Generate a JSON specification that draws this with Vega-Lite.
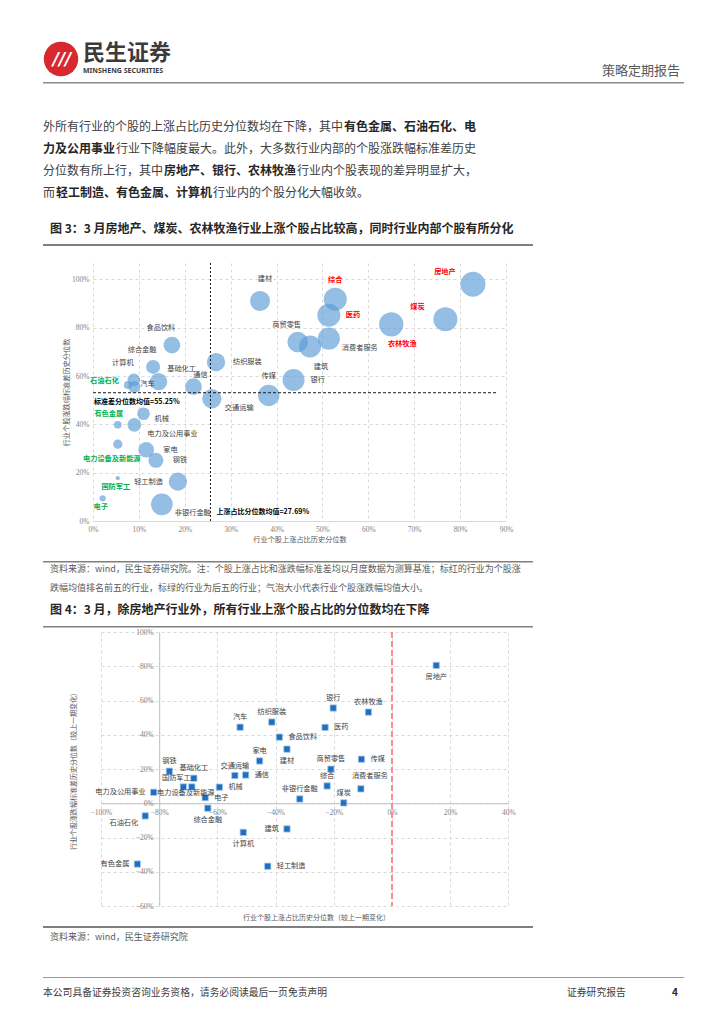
{
"$schema": "https://vega.github.io/schema/vega-lite/v6.json",
"background": "white",
"padding": {"left": 43, "top": 41, "right": 0, "bottom": 0},
"spacing": 0,
"config": {"view": {"stroke": null}, "font": "Noto Sans CJK SC", "concat": {"spacing": 0}, "text": {"fontSize": 7.2, "baseline": "middle", "font": "Noto Sans CJK SC"}, "axis": {"labelFlush": false, "labelOverlap": false},
  "title": {"anchor": "start", "frame": "group", "offset": 0}},
"datasets": {
"fig3": [
{"name":"建材","x":0.364,"y":0.911,"avgChg":4.0,"rank":"其他"},
{"name":"食品饮料","x":0.172,"y":0.728,"avgChg":2.79,"rank":"其他"},
{"name":"综合金融","x":0.131,"y":0.638,"avgChg":1.96,"rank":"其他"},
{"name":"纺织服装","x":0.268,"y":0.658,"avgChg":3.35,"rank":"其他"},
{"name":"计算机","x":0.089,"y":0.584,"avgChg":1.61,"rank":"其他"},
{"name":"汽车","x":0.090,"y":0.555,"avgChg":1.44,"rank":"其他"},
{"name":"石油石化","x":0.076,"y":0.563,"avgChg":0.64,"rank":"后五"},
{"name":"基础化工","x":0.143,"y":0.577,"avgChg":3.0,"rank":"其他"},
{"name":"通信","x":0.219,"y":0.556,"avgChg":2.79,"rank":"其他"},
{"name":"交通运输","x":0.259,"y":0.506,"avgChg":3.72,"rank":"其他"},
{"name":"传媒","x":0.383,"y":0.520,"avgChg":4.54,"rank":"其他"},
{"name":"银行","x":0.437,"y":0.584,"avgChg":4.84,"rank":"其他"},
{"name":"商贸零售","x":0.446,"y":0.741,"avgChg":4.2,"rank":"其他"},
{"name":"建筑","x":0.473,"y":0.722,"avgChg":4.84,"rank":"其他"},
{"name":"消费者服务","x":0.514,"y":0.755,"avgChg":4.84,"rank":"其他"},
{"name":"医药","x":0.514,"y":0.852,"avgChg":5.29,"rank":"前五"},
{"name":"综合","x":0.528,"y":0.918,"avgChg":5.29,"rank":"前五"},
{"name":"农林牧渔","x":0.650,"y":0.814,"avgChg":5.9,"rank":"前五"},
{"name":"煤炭","x":0.768,"y":0.835,"avgChg":5.76,"rank":"前五"},
{"name":"房地产","x":0.828,"y":0.980,"avgChg":6.25,"rank":"前五"},
{"name":"机械","x":0.110,"y":0.444,"avgChg":1.61,"rank":"其他"},
{"name":"有色金属","x":0.054,"y":0.398,"avgChg":0.59,"rank":"后五"},
{"name":"电力及公用事业","x":0.090,"y":0.398,"avgChg":1.88,"rank":"其他"},
{"name":"电力设备及新能源","x":0.054,"y":0.318,"avgChg":0.86,"rank":"后五"},
{"name":"家电","x":0.116,"y":0.295,"avgChg":2.46,"rank":"其他"},
{"name":"钢铁","x":0.137,"y":0.251,"avgChg":2.25,"rank":"其他"},
{"name":"国防军工","x":0.054,"y":0.177,"avgChg":0.18,"rank":"后五"},
{"name":"轻工制造","x":0.185,"y":0.163,"avgChg":3.35,"rank":"其他"},
{"name":"电子","x":0.021,"y":0.094,"avgChg":0.40,"rank":"后五"},
{"name":"非银行金融","x":0.150,"y":0.069,"avgChg":4.71,"rank":"其他"}
],
"fig4": [
{"name":"汽车","x":-0.522,"y":0.444},
{"name":"纺织服装","x":-0.413,"y":0.474},
{"name":"食品饮料","x":-0.387,"y":0.386},
{"name":"建材","x":-0.361,"y":0.316},
{"name":"家电","x":-0.455,"y":0.247},
{"name":"钢铁","x":-0.765,"y":0.187},
{"name":"房地产","x":0.152,"y":0.805},
{"name":"银行","x":-0.202,"y":0.556},
{"name":"农林牧渔","x":-0.081,"y":0.532},
{"name":"医药","x":-0.230,"y":0.443},
{"name":"传媒","x":-0.105,"y":0.257},
{"name":"商贸零售","x":-0.210,"y":0.199},
{"name":"基础化工","x":-0.681,"y":0.146},
{"name":"国防军工","x":-0.717,"y":0.095},
{"name":"电力设备及新能源","x":-0.688,"y":0.095},
{"name":"交通运输","x":-0.540,"y":0.162},
{"name":"通信","x":-0.503,"y":0.165},
{"name":"机械","x":-0.593,"y":0.094},
{"name":"电子","x":-0.642,"y":0.033},
{"name":"综合金融","x":-0.633,"y":-0.029},
{"name":"综合","x":-0.223,"y":0.101},
{"name":"非银行金融","x":-0.317,"y":0.025},
{"name":"煤炭","x":-0.166,"y":0.002},
{"name":"消费者服务","x":-0.107,"y":0.084},
{"name":"电力及公用事业","x":-0.819,"y":0.064},
{"name":"石油石化","x":-0.848,"y":-0.074},
{"name":"计算机","x":-0.511,"y":-0.170},
{"name":"建筑","x":-0.361,"y":-0.150},
{"name":"有色金属","x":-0.875,"y":-0.355},
{"name":"轻工制造","x":-0.427,"y":-0.368}
]
},
"vconcat": [
{"hconcat": [
  {"width": 36, "height": 36, "data": {"values": [{"logo": "民生证券"}]},
   "layer": [
    {"mark": {"type": "circle", "size": 1190, "color": "#d7282f", "opacity": 1}},
    {"mark": {"type": "text", "text": "///", "font": "DejaVu Sans", "fontSize": 17, "fontWeight": "bold", "fontStyle": "italic", "color": "#ffffff", "dx": 1, "dy": 1, "align": "center", "baseline": "middle"}}
   ]},
  {"width": 100, "height": 1, "data": {"values": []}, "mark": "point",
   "title": {"text": "民生证券", "subtitle": "MINSHENG SECURITIES", "orient": "bottom", "fontSize": 22, "fontWeight": "bold", "color": "#3b3b3b", "subtitleFontSize": 7, "subtitleFontWeight": "bold", "subtitleColor": "#3b3b3b", "subtitleFont": "Noto Sans", "subtitlePadding": 2, "offset": 1}},
  {"width": 493, "height": 23, "data": {"values": []}, "mark": "point",
   "title": {"text": "策略定期报告", "orient": "bottom", "anchor": "end", "fontSize": 13, "fontWeight": "normal", "color": "#595959", "offset": 1}}
 ], "spacing": 4},
{"width": 1, "height": 4, "data": {"values": []}, "mark": "point"},
{"width": 641, "height": 1.5, "data": {"values": []}, "mark": "point", "view": {"fill": "#8c8c8c", "stroke": null}},
{"width": 1, "height": 37, "data": {"values": []}, "mark": "point"},
{"hconcat": [
  {"width": 1, "height": 1, "data": {"values": []}, "mark": "point", "title": {"text": "外所有行业的个股的上涨占比历史分位数均在下降，其中", "fontSize": 12, "fontWeight": "normal", "color": "#404040"}},
  {"width": 1, "height": 1, "data": {"values": []}, "mark": "point", "title": {"text": "有色金属、石油石化、电", "fontSize": 12, "fontWeight": "bold", "color": "#262626"}}
 ], "spacing": 0},
{"width": 1, "height": 3.75, "data": {"values": []}, "mark": "point"},
{"hconcat": [
  {"width": 1, "height": 1, "data": {"values": []}, "mark": "point", "title": {"text": "力及公用事业", "fontSize": 12, "fontWeight": "bold", "color": "#262626"}},
  {"width": 1, "height": 1, "data": {"values": []}, "mark": "point", "title": {"text": "行业下降幅度最大。此外，大多数行业内部的个股涨跌幅标准差历史", "fontSize": 12, "fontWeight": "normal", "color": "#404040"}}
 ], "spacing": 0},
{"width": 1, "height": 3.75, "data": {"values": []}, "mark": "point"},
{"hconcat": [
  {"width": 1, "height": 1, "data": {"values": []}, "mark": "point", "title": {"text": "分位数有所上行，其中", "fontSize": 12, "fontWeight": "normal", "color": "#404040"}},
  {"width": 1, "height": 1, "data": {"values": []}, "mark": "point", "title": {"text": "房地产、银行、农林牧渔", "fontSize": 12, "fontWeight": "bold", "color": "#262626"}},
  {"width": 1, "height": 1, "data": {"values": []}, "mark": "point", "title": {"text": "行业内个股表现的差异明显扩大，", "fontSize": 12, "fontWeight": "normal", "color": "#404040"}}
 ], "spacing": 0},
{"width": 1, "height": 3.75, "data": {"values": []}, "mark": "point"},
{"hconcat": [
  {"width": 1, "height": 1, "data": {"values": []}, "mark": "point", "title": {"text": "而", "fontSize": 12, "fontWeight": "normal", "color": "#404040"}},
  {"width": 1, "height": 1, "data": {"values": []}, "mark": "point", "title": {"text": "轻工制造、有色金属、计算机", "fontSize": 12, "fontWeight": "bold", "color": "#262626"}},
  {"width": 1, "height": 1, "data": {"values": []}, "mark": "point", "title": {"text": "行业内的个股分化大幅收敛。", "fontSize": 12, "fontWeight": "normal", "color": "#404040"}}
 ], "spacing": 0},
{"width": 1, "height": 17.25, "data": {"values": []}, "mark": "point"},
{"width": 1, "height": 1, "data": {"values": []}, "mark": "point",
 "title": {"text": "图 3：3 月房地产、煤炭、农林牧渔行业上涨个股占比较高，同时行业内部个股有所分化", "dx": 7, "fontSize": 12, "fontWeight": "bold", "color": "#262626"}},
{"width": 1, "height": 3, "data": {"values": []}, "mark": "point"},
{"width": 490, "height": 2, "data": {"values": []}, "mark": "point", "view": {"fill": "#7f7f7f", "stroke": null}},
{"width": 1, "height": 15.5, "data": {"values": []}, "mark": "point"},
{"hconcat": [
  {"width": 19, "height": 1, "data": {"values": []}, "mark": "point"},
  {"width": 413, "height": 258, "data": {"name": "fig3"},
   "layer": [
    {"mark": {"type": "circle", "color": "#5b9bd5", "opacity": 0.65},
     "encoding": {
      "x": {"field": "x", "type": "quantitative", "scale": {"domain": [0, 0.9], "nice": false, "zero": false},
            "axis": {"values": [0, 0.1, 0.2, 0.3, 0.4, 0.5, 0.6, 0.7, 0.8, 0.9], "format": ".0%", "labelOverlap": false, "labelFlush": false, "grid": true, "gridDash": [3, 3], "gridColor": "#d9d9d9", "domain": true, "domainColor": "#d9d9d9", "ticks": false, "labelFont": "Liberation Serif", "labelFontSize": 7.5, "labelColor": "#7f7f7f", "labelPadding": 4, "title": "行业个股上涨占比历史分位数", "titleFontSize": 7.2, "titleFontWeight": "normal", "titleColor": "#595959", "titlePadding": 3}},
      "y": {"field": "y", "type": "quantitative", "scale": {"domain": [0, 1.068], "nice": false, "zero": false},
            "axis": {"values": [0, 0.2, 0.4, 0.6, 0.8, 1.0], "format": ".0%", "labelOverlap": false, "labelFlush": false, "grid": true, "gridDash": [3, 3], "gridColor": "#d9d9d9", "domain": false, "ticks": false, "labelFont": "Liberation Serif", "labelFontSize": 7.5, "labelColor": "#7f7f7f", "labelPadding": 4, "title": "行业个股涨跌幅标准差历史分位数", "titleFontSize": 7.2, "titleFontWeight": "normal", "titleColor": "#595959", "titleX": -23}},
      "size": {"field": "avgChg", "type": "quantitative", "scale": {"domain": [0, 6.25], "range": [0, 625]}, "legend": null}}},
    {"data": {"values": [{"x": 0.256, "label": "上涨占比分位数均值=27.69%"}]},
     "layer": [
      {"mark": {"type": "rule", "color": "#1a1a1a", "strokeDash": [2, 2], "strokeWidth": 1}, "encoding": {"x": {"field": "x", "type": "quantitative"}}},
      {"mark": {"type": "text", "align": "left", "dx": 6, "dy": -9, "fontSize": 7, "fontWeight": "bold", "color": "#000000"}, "encoding": {"x": {"field": "x", "type": "quantitative"}, "y": {"datum": 0}, "text": {"field": "label"}}}
     ]},
    {"data": {"values": [{"y": 0.531, "label": "标准差分位数均值=55.25%"}]},
     "layer": [
      {"mark": {"type": "rule", "color": "#1a1a1a", "strokeDash": [3, 2], "strokeWidth": 1}, "encoding": {"y": {"field": "y", "type": "quantitative"}, "x": {"datum": 0}, "x2": {"datum": 0.88}}},
      {"mark": {"type": "text", "align": "left", "dx": 1, "dy": 9.5, "fontSize": 7, "fontWeight": "bold", "color": "#000000"}, "encoding": {"y": {"field": "y", "type": "quantitative"}, "x": {"datum": 0}, "text": {"field": "label"}}}
     ]},
    {"encoding": {"x": {"field": "x", "type": "quantitative"}, "y": {"field": "y", "type": "quantitative"}, "text": {"field": "name"},
                  "color": {"field": "rank", "type": "nominal", "scale": {"domain": ["前五", "后五", "其他"], "range": ["#ff0000", "#00b050", "#404040"]}, "legend": null}},
     "layer": [
      {"transform": [{"filter": {"field": "name", "oneOf": ["建材"]}}], "mark": {"type": "text", "align": "center", "dx": 5, "dy": -22, "fontWeight": {"expr": "datum.rank === '其他' ? 'normal' : 'bold'"}}},
      {"transform": [{"filter": {"field": "name", "oneOf": ["综合", "传媒"]}}], "mark": {"type": "text", "align": "center", "dx": 0, "dy": -19, "fontWeight": {"expr": "datum.rank === '其他' ? 'normal' : 'bold'"}}},
      {"transform": [{"filter": {"field": "name", "oneOf": ["食品饮料", "计算机", "综合金融", "商贸零售"]}}], "mark": {"type": "text", "align": "center", "dx": -11, "dy": -17, "fontWeight": {"expr": "datum.rank === '其他' ? 'normal' : 'bold'"}}},
      {"transform": [{"filter": {"field": "name", "oneOf": ["房地产", "煤炭"]}}], "mark": {"type": "text", "align": "center", "dx": -28, "dy": -12, "fontWeight": {"expr": "datum.rank === '其他' ? 'normal' : 'bold'"}}},
      {"transform": [{"filter": {"field": "name", "oneOf": ["通信"]}}], "mark": {"type": "text", "align": "center", "dx": 7, "dy": -12, "fontWeight": {"expr": "datum.rank === '其他' ? 'normal' : 'bold'"}}},
      {"transform": [{"filter": {"field": "name", "oneOf": ["基础化工"]}}], "mark": {"type": "text", "align": "center", "dx": 23, "dy": -13, "fontWeight": {"expr": "datum.rank === '其他' ? 'normal' : 'bold'"}}},
      {"transform": [{"filter": {"field": "name", "oneOf": ["有色金属"]}}], "mark": {"type": "text", "align": "center", "dx": -9, "dy": -11, "fontWeight": {"expr": "datum.rank === '其他' ? 'normal' : 'bold'"}}},
      {"transform": [{"filter": {"field": "name", "oneOf": ["农林牧渔", "建筑"]}}], "mark": {"type": "text", "align": "center", "dx": 11, "dy": 20, "fontWeight": {"expr": "datum.rank === '其他' ? 'normal' : 'bold'"}}},
      {"transform": [{"filter": {"field": "name", "oneOf": ["国防军工", "电子"]}}], "mark": {"type": "text", "align": "center", "dx": -2, "dy": 9, "fontWeight": {"expr": "datum.rank === '其他' ? 'normal' : 'bold'"}}},
      {"transform": [{"filter": {"field": "name", "oneOf": ["电力设备及新能源"]}}], "mark": {"type": "text", "align": "center", "dx": -6, "dy": 15, "fontWeight": {"expr": "datum.rank === '其他' ? 'normal' : 'bold'"}}},
      {"transform": [{"filter": {"field": "name", "oneOf": ["医药", "银行", "纺织服装", "家电", "钢铁"]}}], "mark": {"type": "text", "align": "left", "dx": 17, "dy": 0, "fontWeight": {"expr": "datum.rank === '其他' ? 'normal' : 'bold'"}}},
      {"transform": [{"filter": {"field": "name", "oneOf": ["汽车"]}}], "mark": {"type": "text", "align": "left", "dx": 6, "dy": -3, "fontWeight": {"expr": "datum.rank === '其他' ? 'normal' : 'bold'"}}},
      {"transform": [{"filter": {"field": "name", "oneOf": ["机械"]}}], "mark": {"type": "text", "align": "left", "dx": 11, "dy": 5, "fontWeight": {"expr": "datum.rank === '其他' ? 'normal' : 'bold'"}}},
      {"transform": [{"filter": {"field": "name", "oneOf": ["电力及公用事业", "消费者服务", "交通运输", "非银行金融"]}}], "mark": {"type": "text", "align": "left", "dx": 13, "dy": 9, "fontWeight": {"expr": "datum.rank === '其他' ? 'normal' : 'bold'"}}},
      {"transform": [{"filter": {"field": "name", "oneOf": ["石油石化"]}}], "mark": {"type": "text", "align": "right", "dx": -9, "dy": -4, "fontWeight": {"expr": "datum.rank === '其他' ? 'normal' : 'bold'"}}},
      {"transform": [{"filter": {"field": "name", "oneOf": ["轻工制造"]}}], "mark": {"type": "text", "align": "right", "dx": -15, "dy": 0, "fontWeight": {"expr": "datum.rank === '其他' ? 'normal' : 'bold'"}}}
     ]}
   ]}
 ], "spacing": 0},
{"width": 1, "height": 18, "data": {"values": []}, "mark": "point"},
{"width": 490, "height": 1.5, "data": {"values": []}, "mark": "point", "view": {"fill": "#7f7f7f", "stroke": null}},
{"width": 1, "height": 2, "data": {"values": []}, "mark": "point"},
{"width": 1, "height": 1, "data": {"values": []}, "mark": "point",
 "title": {"text": ["资料来源：wind，民生证券研究院。注：个股上涨占比和涨跌幅标准差均以月度数据为测算基准；标红的行业为个股涨", "跌幅均值排名前五的行业，标绿的行业为后五的行业；气泡大小代表行业个股涨跌幅均值大小。"], "dx": 7, "fontSize": 9, "fontWeight": "normal", "color": "#595959", "lineHeight": 19}},
{"width": 1, "height": 5.5, "data": {"values": []}, "mark": "point"},
{"width": 1, "height": 1, "data": {"values": []}, "mark": "point",
 "title": {"text": "图 4：3 月，除房地产行业外，所有行业上涨个股占比的分位数均在下降", "dx": 7, "fontSize": 12, "fontWeight": "bold", "color": "#262626"}},
{"width": 1, "height": 4, "data": {"values": []}, "mark": "point"},
{"width": 490, "height": 1.5, "data": {"values": []}, "mark": "point", "view": {"fill": "#7f7f7f", "stroke": null}},
{"hconcat": [
  {"width": 25.5, "height": 1, "data": {"values": []}, "mark": "point"},
  {"width": 407.4, "height": 274, "data": {"name": "fig4"},
   "layer": [
    {"data": {"values": [{"x": 0}]}, "mark": {"type": "rule", "color": "#ff8c8c", "strokeDash": [6, 3], "strokeWidth": 2}, "encoding": {"x": {"field": "x", "type": "quantitative"}}},
    {"encoding": {
      "x": {"field": "x", "type": "quantitative", "scale": {"domain": [-1, 0.4], "nice": false, "zero": false},
            "axis": {"values": [-1, -0.8, -0.6, -0.4, -0.2, 0, 0.2, 0.4], "format": ".0%", "labelOverlap": false, "labelFlush": false, "offset": -102.75, "grid": true, "gridDash": [3, 3], "gridColor": "#d9d9d9", "domain": true, "domainColor": "#bfbfbf", "ticks": false, "labelFont": "Liberation Serif", "labelFontSize": 7.5, "labelColor": "#7f7f7f", "labelPadding": 5, "title": "行业个股上涨占比历史分位数（较上一期变化）", "titleFontSize": 7, "titleFontWeight": "normal", "titleColor": "#595959", "titleX": 215, "titleY": 114, "titleBaseline": "middle"}},
      "y": {"field": "y", "type": "quantitative", "scale": {"domain": [-0.6, 1.0], "nice": false, "zero": false},
            "axis": {"values": [-0.6, -0.4, -0.2, 0, 0.2, 0.4, 0.6, 0.8, 1.0], "format": ".0%", "labelOverlap": false, "labelSeparation": 0, "labelFlush": false, "offset": -58.2, "grid": true, "gridDash": [3, 3], "gridColor": "#d9d9d9", "domain": true, "domainColor": "#bfbfbf", "ticks": false, "labelFont": "Liberation Serif", "labelFontSize": 7.5, "labelColor": "#7f7f7f", "labelPadding": 6, "title": "行业个股涨跌幅标准差历史分位数（较上一期变化）", "titleFontSize": 7, "titleFontWeight": "normal", "titleColor": "#595959", "titleX": -83.2}},
      "text": {"field": "name"}},
     "layer": [
      {"mark": {"type": "square", "size": 40, "color": "#1f6fc0", "opacity": 1, "stroke": "#a9cbe9", "strokeWidth": 0.8}},
      {"transform": [{"filter": {"field": "name", "oneOf": ["房地产", "建材", "计算机", "综合金融"]}}], "mark": {"type": "text", "align": "center", "dx": 0, "dy": 12, "color": "#404040"}},
      {"transform": [{"filter": {"field": "name", "oneOf": ["银行", "农林牧渔", "纺织服装", "汽车", "家电", "商贸零售", "钢铁", "基础化工", "交通运输", "综合", "煤炭", "非银行金融"]}}], "mark": {"type": "text", "align": "center", "dx": 0, "dy": -10, "color": "#404040"}},
      {"transform": [{"filter": {"field": "name", "oneOf": ["国防军工"]}}], "mark": {"type": "text", "align": "center", "dx": -7, "dy": -9, "color": "#404040"}},
      {"transform": [{"filter": {"field": "name", "oneOf": ["消费者服务"]}}], "mark": {"type": "text", "align": "center", "dx": 9, "dy": -13, "color": "#404040"}},
      {"transform": [{"filter": {"field": "name", "oneOf": ["电力设备及新能源"]}}], "mark": {"type": "text", "align": "center", "dx": -6, "dy": 6, "color": "#404040"}},
      {"transform": [{"filter": {"field": "name", "oneOf": ["医药", "食品饮料", "传媒", "通信", "机械", "电子", "轻工制造"]}}], "mark": {"type": "text", "align": "left", "dx": 9, "dy": 0, "color": "#404040"}},
      {"transform": [{"filter": {"field": "name", "oneOf": ["电力及公用事业", "建筑", "有色金属"]}}], "mark": {"type": "text", "align": "right", "dx": -8, "dy": 0, "color": "#404040"}},
      {"transform": [{"filter": {"field": "name", "oneOf": ["石油石化"]}}], "mark": {"type": "text", "align": "right", "dx": -7, "dy": 7, "color": "#404040"}}
     ]}
   ]}
 ], "spacing": 0},
{"width": 1, "height": 5, "data": {"values": []}, "mark": "point"},
{"width": 490, "height": 2, "data": {"values": []}, "mark": "point", "view": {"fill": "#7f7f7f", "stroke": null}},
{"width": 1, "height": 5, "data": {"values": []}, "mark": "point"},
{"width": 1, "height": 1, "data": {"values": []}, "mark": "point",
 "title": {"text": "资料来源：wind，民生证券研究院", "dx": 7, "fontSize": 9, "fontWeight": "normal", "color": "#595959"}},
{"width": 1, "height": 29.5, "data": {"values": []}, "mark": "point"},
{"width": 641, "height": 1, "data": {"values": []}, "mark": "point", "view": {"fill": "#9a9a9a", "stroke": null}},
{"width": 1, "height": 10, "data": {"values": []}, "mark": "point"},
{"hconcat": [
  {"width": 520, "height": 1, "data": {"values": []}, "mark": "point",
   "title": {"text": "本公司具备证券投资咨询业务资格，请务必阅读最后一页免责声明", "fontSize": 9.8, "fontWeight": "normal", "color": "#404040"}},
  {"width": 62, "height": 1, "data": {"values": []}, "mark": "point",
   "title": {"text": "证券研究报告", "fontSize": 9.8, "fontWeight": "normal", "color": "#404040"}},
  {"width": 45, "height": 1, "data": {"values": []}, "mark": "point",
   "title": {"text": "4", "anchor": "end", "fontSize": 10, "fontWeight": "bold", "color": "#262626"}}
 ], "spacing": 4}
]
}
